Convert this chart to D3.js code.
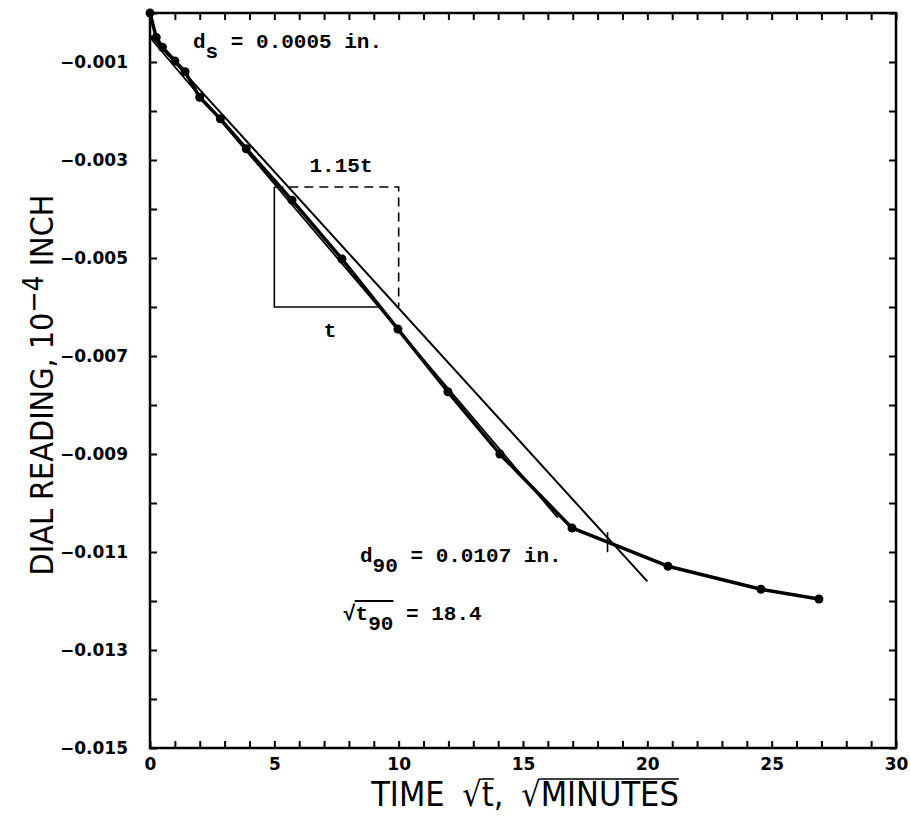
<!DOCTYPE html>
<html><head><meta charset="utf-8">
<script src="https://cdn.jsdelivr.net/npm/d3@7"></script>
<style>body{margin:0;background:#fff}</style>
</head><body><svg id="c" width="910" height="818"></svg>
<script>
// ---- data ----
const sqrtTime    = [0, 0.25, 0.5, 1.0, 1.41, 2.0, 2.83, 3.87, 5.71, 7.72, 9.97, 11.98, 14.07, 16.97, 20.83, 24.57, 26.9];
const dialReading = [0, -0.00050, -0.00070, -0.00098, -0.00120, -0.00172, -0.00216, -0.00277, -0.00382, -0.00502, -0.00645, -0.00773, -0.00900, -0.01051, -0.01129, -0.01176, -0.01196];
const initialLineX = [0, 16.4];
const initialLineY = [-0.0005, -0.0103];
const line115X = [0, 20.0];
const line115Y = [-0.00045, -0.0116];
const boxX = [5, 10];            // t-box left / 1.15t right
const boxY = [-0.00355, -0.0060]; // top / bottom
const boxBaseEndX = 9.2;
const t90 = 18.4, d90mark = -0.0108;
const xTickLabels = [0, 5, 10, 15, 20, 25, 30];
const yTickLabels = [-0.001, -0.003, -0.005, -0.007, -0.009, -0.011, -0.013, -0.015];

const svg = d3.select("#c");
const L = 150, R = 896, T = 13, B = 748;
const x = d3.scaleLinear().domain([0, 30]).range([L, R]);
const y = d3.scaleLinear().domain([0, -0.015]).range([T, B]);

const xt = d3.range(0, 31, 1);
const yt = d3.range(0, 16, 1).map(i => -i / 1000);
const fmtY = d => { const m = yTickLabels.find(v => Math.abs(v - d) < 1e-9); return m === undefined ? "" : "\u2212" + Math.abs(m).toFixed(3); };
const fmtX = d => xTickLabels.includes(d) ? String(d) : "";

function styleAxis(g) {
  g.select(".domain").remove();
  g.selectAll(".tick line").attr("stroke", "#000").attr("stroke-width", 2);
  g.selectAll("text").attr("font-family", "DejaVu Sans, sans-serif").attr("font-weight", "bold").attr("font-size", 17).attr("fill", "#000");
}
svg.append("g").attr("transform", `translate(0,${B})`)
  .call(d3.axisBottom(x).tickValues(xt).tickFormat(fmtX).tickSize(-7).tickSizeOuter(0).tickPadding(10)).call(styleAxis);
svg.append("g").attr("transform", `translate(0,${T})`)
  .call(d3.axisTop(x).tickValues(xt).tickFormat("").tickSize(-7).tickSizeOuter(0)).call(styleAxis);
svg.append("g").attr("transform", `translate(${L},0)`)
  .call(d3.axisLeft(y).tickValues(yt).tickFormat(fmtY).tickSize(-7).tickSizeOuter(0).tickPadding(22)).call(styleAxis);
svg.append("g").attr("transform", `translate(${R},0)`)
  .call(d3.axisRight(y).tickValues(yt).tickFormat("").tickSize(-7).tickSizeOuter(0)).call(styleAxis);

svg.append("rect").attr("x", L).attr("y", T).attr("width", R - L).attr("height", B - T)
  .attr("fill", "none").attr("stroke", "#000").attr("stroke-width", 2.5);

// fitted lines
const lineGen = d3.line().x(d => x(d[0])).y(d => y(d[1]));
svg.append("path").datum(d3.zip(initialLineX, initialLineY)).attr("d", lineGen)
  .attr("fill", "none").attr("stroke", "#000").attr("stroke-width", 1.8);
svg.append("path").datum(d3.zip(line115X, line115Y)).attr("d", lineGen)
  .attr("fill", "none").attr("stroke", "#000").attr("stroke-width", 2);

// t / 1.15t construction
svg.append("path").datum([[boxX[0], boxY[0]], [boxX[0], boxY[1]], [boxBaseEndX, boxY[1]]]).attr("d", lineGen)
  .attr("fill", "none").attr("stroke", "#000").attr("stroke-width", 1.6);
svg.append("path").datum([[boxX[0], boxY[0]], [boxX[1], boxY[0]], [boxX[1], boxY[1]]]).attr("d", lineGen)
  .attr("fill", "none").attr("stroke", "#000").attr("stroke-width", 1.6).attr("stroke-dasharray", "9,6");

// data curve
const pts = d3.zip(sqrtTime, dialReading);
svg.append("path").datum(pts).attr("d", lineGen)
  .attr("fill", "none").attr("stroke", "#000").attr("stroke-width", 3.5).attr("stroke-linejoin", "round");
svg.selectAll("circle.pt").data(pts).join("circle").attr("class", "pt")
  .attr("cx", d => x(d[0])).attr("cy", d => y(d[1])).attr("r", 4.5).attr("fill", "#000");

// t90 marker
svg.append("line").attr("x1", x(t90)).attr("x2", x(t90)).attr("y1", y(d90mark) - 10).attr("y2", y(d90mark) + 10)
  .attr("stroke", "#000").attr("stroke-width", 1.6);

// annotations (typewriter)
const mono = "Liberation Mono, Courier New, monospace";
function annot(px, py) {
  return svg.append("text").attr("x", px).attr("y", py).attr("font-family", mono)
    .attr("font-weight", "bold").attr("font-size", 21).attr("fill", "#000");
}
let a = annot(193, 48);
a.append("tspan").text("d");
a.append("tspan").attr("dy", 10).text("s");
a.append("tspan").attr("dy", -10).text(" = 0.0005 in.");

annot(341, 172).attr("text-anchor", "middle").text("1.15t");
annot(330, 337).attr("text-anchor", "middle").text("t");

a = annot(360, 562);
a.append("tspan").text("d");
a.append("tspan").attr("dy", 10).text("90");
a.append("tspan").attr("dy", -10).text(" = 0.0107 in.");

a = annot(343, 620);
a.append("tspan").text("\u221A");
a.append("tspan").text("t");
a.append("tspan").attr("dy", 10).text("90");
a.append("tspan").attr("dy", -10).text(" = 18.4");
{
  const n = a.node();
  const e1 = n.getExtentOfChar(1), e3 = n.getExtentOfChar(3);
  svg.append("line").attr("x1", e1.x - 1).attr("x2", e3.x + e3.width).attr("y1", 601).attr("y2", 601)
    .attr("stroke", "#000").attr("stroke-width", 2);
}

// axis titles
const sans = "Liberation Sans Narrow, DejaVu Sans Condensed, Arial Narrow, sans-serif";
const xs = "TIME \u221At, \u221AMINUTES";
const xl = svg.append("text").attr("x", 525).attr("y", 806).attr("text-anchor", "middle")
  .attr("font-family", sans).attr("font-size", 34).attr("fill", "#000").attr("word-spacing", 8);
xl.text(xs);
try {
  const n = xl.node();
  const i1 = xs.indexOf("t,"), i2 = xs.indexOf("MINUTES");
  const a1 = n.getExtentOfChar(i1), a2 = n.getExtentOfChar(i2), a3 = n.getExtentOfChar(xs.length - 1);
  svg.append("line").attr("x1", a1.x).attr("x2", a1.x + a1.width).attr("y1", a1.y + 5).attr("y2", a1.y + 5).attr("stroke", "#000").attr("stroke-width", 1.6);
  svg.append("line").attr("x1", a2.x).attr("x2", a3.x + a3.width).attr("y1", a2.y + 5).attr("y2", a2.y + 5).attr("stroke", "#000").attr("stroke-width", 1.6);
} catch (e) {}
const yl = svg.append("text").attr("transform", "translate(53,385) rotate(-90)").attr("text-anchor", "middle")
  .attr("font-family", sans).attr("font-size", 32).attr("fill", "#000");
yl.append("tspan").text("DIAL READING, 10");
yl.append("tspan").attr("dy", -10).attr("font-size", 28).text("\u22124");
yl.append("tspan").attr("dy", 10).text(" INCH");
</script></body></html>
